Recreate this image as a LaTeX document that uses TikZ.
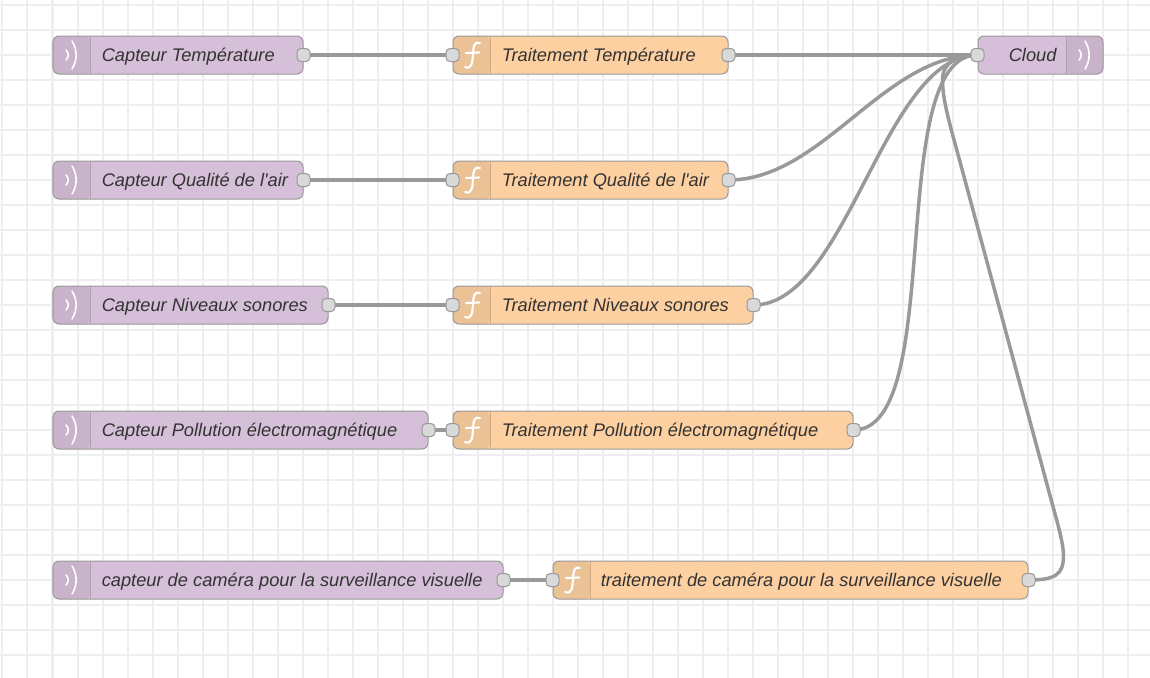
\documentclass[tikz,border=0pt]{standalone}
\usepackage{fontspec}
\newfontfamily\labelfont{Liberation Sans}
\usetikzlibrary{calc}
\pgfdeclarelayer{gridlayer}
\pgfdeclarelayer{wirelayer}
\pgfsetlayers{gridlayer,wirelayer,main}
\definecolor{lilac}{HTML}{D6BFD8}
\definecolor{lilacdark}{HTML}{C9B3CB}
\definecolor{peach}{HTML}{FDD0A2}
\definecolor{peachdark}{HTML}{EBC196}
\definecolor{wirecol}{HTML}{999999}
\definecolor{gridcol}{HTML}{EEEEEE}
\definecolor{portfill}{HTML}{D9D9D9}
\definecolor{textcol}{HTML}{333333}
\newlength{\pxu}
\setlength{\pxu}{0.75pt}
\tikzset{
  x=0.75pt, y=-0.75pt,
  gridline/.style={draw=gridcol, line width=1.5pt},
  wire/.style={draw=wirecol, line width=2.6pt},
  flowbody/.style={draw=black!40, line width=0.75pt, rounded corners=4.5pt,
     minimum height=38\pxu, inner sep=0pt, anchor=west},
  iconleft/.style={path picture={\fill[#1] (path picture bounding box.north west) rectangle
     ([xshift=37\pxu]path picture bounding box.south west);
     \draw[#1!88!black, line width=0.75pt] ([xshift=37\pxu]path picture bounding box.north west) -- ([xshift=37\pxu]path picture bounding box.south west);}},
  iconright/.style={path picture={\fill[#1] (path picture bounding box.north east) rectangle
     ([xshift=-37\pxu]path picture bounding box.south east);
     \draw[#1!88!black, line width=0.75pt] ([xshift=-37\pxu]path picture bounding box.north east) -- ([xshift=-37\pxu]path picture bounding box.south east);}},
  sensorbody/.style={flowbody, fill=lilac, iconleft=lilacdark},
  funcbody/.style={flowbody, fill=peach, iconleft=peachdark},
  cloudbody/.style={flowbody, fill=lilac, iconright=lilacdark},
  portbox/.style={draw=black!40, line width=0.75pt, fill=portfill, rounded corners=3pt,
     minimum size=13\pxu, inner sep=0pt},
  flowlabel/.style={anchor=base west, inner sep=0pt, text=textcol, yshift=-4.5pt,
     font=\labelfont\fontsize{13.7pt}{15pt}\selectfont\itshape},
  wavestroke/.style={draw=white, line width=1.2pt, line cap=round},
  funcstroke/.style={draw=white, line width=1.6pt, line cap=round},
}
\newcommand{\waveicon}[2]{%
  \draw[wavestroke] (#1+66.5,#2-5) .. controls (#1+69.5,#2-2) and (#1+69.5,#2+2) .. (#1+66.5,#2+5);
  \draw[wavestroke] (#1+72.5,#2-14) .. controls (#1+78,#2-5) and (#1+78,#2+5) .. (#1+72.5,#2+14);
}
\newcommand{\funcicon}[2]{%
  \draw[funcstroke] (#1+480.5,#2-12) .. controls (#1+475,#2-14) and (#1+474,#2-9) .. (#1+473.5,#2-2)
     .. controls (#1+473,#2+6) and (#1+473,#2+15) .. (#1+465.5,#2+12);
  \draw[funcstroke] (#1+466.5,#2-2) -- (#1+479.5,#2-2.5);
}
\begin{document}
\begin{tikzpicture}
\useasboundingbox (0.5,0) rectangle (1150.5,678);
\begin{pgfonlayer}{gridlayer}
  \fill[white] (0,0) rectangle (1151,678);
  \foreach \gx in {3,28,...,1128} {\draw[gridline] (\gx,0) -- (\gx,678);}
  \foreach \gy in {5,30,...,655} {\draw[gridline] (0,\gy) -- (1151,\gy);}
\end{pgfonlayer}

% sensors
\node[sensorbody, minimum width=250\pxu] (s1) at (53,55) {};
\node[sensorbody, minimum width=250\pxu] (s2) at (53,180) {};
\node[sensorbody, minimum width=275\pxu] (s3) at (53,305) {};
\node[sensorbody, minimum width=375\pxu] (s4) at (53,430) {};
\node[sensorbody, minimum width=450\pxu] (s5) at (53,580) {};
% functions
\node[funcbody, minimum width=275\pxu] (f1) at (453,55) {};
\node[funcbody, minimum width=275\pxu] (f2) at (453,180) {};
\node[funcbody, minimum width=300\pxu] (f3) at (453,305) {};
\node[funcbody, minimum width=400\pxu] (f4) at (453,430) {};
\node[funcbody, minimum width=475\pxu] (f5) at (553,580) {};
% cloud
\node[cloudbody, minimum width=125\pxu] (c) at (978,55) {};

% icons
\foreach \iy in {55,180,305,430,580} {\waveicon{0}{\iy}}
\waveicon{1013}{55}
\foreach \iy in {55,180,305,430} {\funcicon{0}{\iy}}
\funcicon{100}{580}

% labels
\node[flowlabel] (ts1) at (102,55) {Capteur Température};
\node[flowlabel] (ts2) at (102,180) {Capteur Qualité de l'air};
\node[flowlabel] (ts3) at (102,305) {Capteur Niveaux sonores};
\node[flowlabel] (ts4) at (102,430) {Capteur Pollution électromagnétique};
\node[flowlabel] (ts5) at (102,580) {capteur de caméra pour la surveillance visuelle};
\node[flowlabel] (tf1) at (502,55) {Traitement Température};
\node[flowlabel] (tf2) at (502,180) {Traitement Qualité de l'air};
\node[flowlabel] (tf3) at (502,305) {Traitement Niveaux sonores};
\node[flowlabel] (tf4) at (502,430) {Traitement Pollution électromagnétique};
\node[flowlabel] (tf5) at (601,580) {traitement de caméra pour la surveillance visuelle};
\node[flowlabel] (tc) at (1009,55) {Cloud};

% ports
\node[portbox] (s1o) at (s1.east) {};
\node[portbox] (s2o) at (s2.east) {};
\node[portbox] (s3o) at (s3.east) {};
\node[portbox] (s4o) at (s4.east) {};
\node[portbox] (s5o) at (s5.east) {};
\node[portbox] (f1i) at (f1.west) {};
\node[portbox] (f2i) at (f2.west) {};
\node[portbox] (f3i) at (f3.west) {};
\node[portbox] (f4i) at (f4.west) {};
\node[portbox] (f5i) at (f5.west) {};
\node[portbox] (f1o) at (f1.east) {};
\node[portbox] (f2o) at (f2.east) {};
\node[portbox] (f3o) at (f3.east) {};
\node[portbox] (f4o) at (f4.east) {};
\node[portbox] (f5o) at (f5.east) {};
\node[portbox] (ci) at (c.west) {};

% wires
\begin{pgfonlayer}{wirelayer}
  \draw[wire] (s1o.center) -- (f1i.center);
  \draw[wire] (s2o.center) -- (f2i.center);
  \draw[wire] (s3o.center) -- (f3i.center);
  \draw[wire] (s4o.center) -- (f4i.center);
  \draw[wire] (s5o.center) -- (f5i.center);
  \draw[wire] (f1o.center) -- (ci.center);
  \draw[wire] (f2o.center) .. controls +(94,0) and +(-94,0) .. (ci.center);
  \draw[wire] (f3o.center) .. controls +(94,0) and +(-94,0) .. (ci.center);
  \draw[wire] (f4o.center) .. controls +(94,0) and +(-94,0) .. (ci.center);
  \draw[wire] (f5o.center) .. controls +(26,0) and (1064,575) .. (1064,556)
     .. controls (1064,542) and (1057,520) .. (1049,490)
     -- (960,160)
     .. controls (950.5,125) and (943,100) .. (943,80)
     .. controls (943,62) and (958,55) .. (ci.center);
\end{pgfonlayer}
\end{tikzpicture}
\end{document}
